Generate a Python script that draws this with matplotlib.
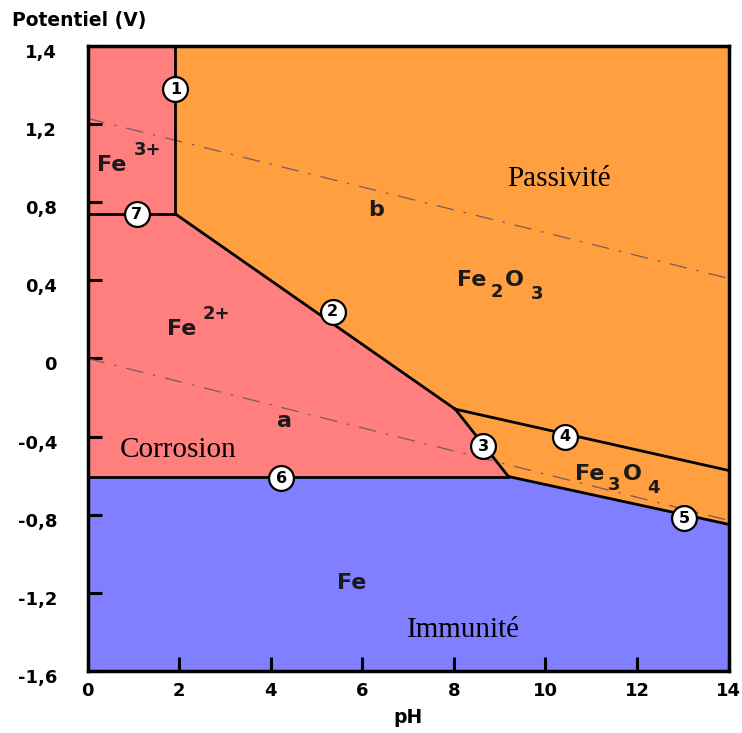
import matplotlib.pyplot as plt
import matplotlib.transforms as mtransforms
from matplotlib.patches import Polygon

# axis ticks as printed on the original
x_ticks = [0, 2, 4, 6, 8, 10, 12, 14]
y_ticks = [-1.6, -1.2, -0.8, -0.4, 0, 0.4, 0.8, 1.2, 1.6]
y_tick_labels = ['-1,6', '-1,2', '-0,8', '-0,4', '0', '0,4', '0,8', '1,2', '1,4']

# boundary nodes (pH, E)
p_top = 1.6
p_bot = -1.6
n_fe3_fe2 = (1.92, 0.74)      # end of line 7 / foot of line 1
n_triple = (8.03, -0.26)      # lines 2, 3, 4 meet
n_fe_corner = (9.19, -0.605)  # lines 3, 5, 6 meet
e_line4_right = -0.574
e_line5_right = -0.85

# water lines a and b (pH, E)
line_a_ph = [0, 14]
line_a_e = [0.0, -0.83]
line_b_ph = [0, 14]
line_b_e = [1.23, 0.41]

# numbered circles
circle_ids = ['1', '2', '3', '4', '5', '6', '7']
circle_ph = [1.92, 5.35, 8.64, 10.42, 13.03, 4.23, 1.07]
circle_e = [1.38, 0.24, -0.45, -0.40, -0.82, -0.615, 0.74]

RED = '#ff7f7f'
ORANGE = '#ff9f40'
BLUE = '#7f7fff'

fig = plt.figure(figsize=(7.42, 7.33), dpi=100)
ax = fig.add_axes([0.118, 0.085, 0.864, 0.852])
ax.set_xlim(0, 14)
ax.set_ylim(p_bot, p_top)

regions = {
    'fe3': ([(0, n_fe3_fe2[1]), n_fe3_fe2, (n_fe3_fe2[0], p_top), (0, p_top)], RED),
    'fe2': ([(0, n_fe_corner[1]), n_fe_corner, n_triple, n_fe3_fe2, (0, n_fe3_fe2[1])], RED),
    'fe2o3': ([(n_fe3_fe2[0], p_top), (14, p_top), (14, e_line4_right), n_triple, n_fe3_fe2], ORANGE),
    'fe3o4': ([n_triple, (14, e_line4_right), (14, e_line5_right), n_fe_corner], ORANGE),
    'fe': ([(0, p_bot), (14, p_bot), (14, e_line5_right), n_fe_corner, (0, n_fe_corner[1])], BLUE),
}
for name, (pts, col) in regions.items():
    ax.add_patch(Polygon(pts, closed=True, facecolor=col, edgecolor='none', zorder=1))

# dash-dot water lines
ax.plot(line_a_ph, line_a_e, color='#7a5a5a', lw=0.9, dashes=(14, 8, 2, 8), zorder=2)
ax.plot(line_b_ph, line_b_e, color='#7a5a5a', lw=0.9, dashes=(14, 8, 2, 8), zorder=2)

# boundaries
lw = 2.0
ax.plot([0, n_fe3_fe2[0]], [n_fe3_fe2[1], n_fe3_fe2[1]], 'k-', lw=lw, zorder=3)      # 7
ax.plot([n_fe3_fe2[0], n_fe3_fe2[0]], [n_fe3_fe2[1], p_top], 'k-', lw=lw, zorder=3)  # 1
ax.plot([n_fe3_fe2[0], n_triple[0]], [n_fe3_fe2[1], n_triple[1]], 'k-', lw=lw, zorder=3)  # 2
ax.plot([n_triple[0], n_fe_corner[0]], [n_triple[1], n_fe_corner[1]], 'k-', lw=lw, zorder=3)  # 3
ax.plot([n_triple[0], 14], [n_triple[1], e_line4_right], 'k-', lw=lw, zorder=3)  # 4
ax.plot([n_fe_corner[0], 14], [n_fe_corner[1], e_line5_right], 'k-', lw=lw, zorder=3)  # 5
ax.plot([0, n_fe_corner[0]], [n_fe_corner[1], n_fe_corner[1]], 'k-', lw=lw, zorder=3)  # 6

# numbered circles
ax.scatter(circle_ph, circle_e, s=320, facecolor='white', edgecolor='black',
           linewidth=1.6, zorder=4)
for cid, px, py in zip(circle_ids, circle_ph, circle_e):
    ax.text(px, py, cid, ha='center', va='center', fontsize=11.5, fontweight='bold',
            family='DejaVu Sans', zorder=5)

# species labels
chem = dict(fontsize=16, fontweight='bold', family='DejaVu Sans', color='#1a1a1a', zorder=5)
sup = dict(fontsize=13, fontweight='bold', family='DejaVu Sans', color='#1a1a1a', zorder=5)
ax.text(0.2, 0.99, 'Fe', va='center', **chem)
ax.text(1.0, 1.07, '3+', va='center', **sup)
ax.text(1.73, 0.15, 'Fe', va='center', **chem)
ax.text(2.52, 0.23, '2+', va='center', **sup)
ax.text(8.07, 0.40, 'Fe', va='center', **chem)
ax.text(8.8, 0.34, '2', va='center', **sup)
ax.text(9.12, 0.40, 'O', va='center', **chem)
ax.text(9.68, 0.33, '3', va='center', **sup)
ax.text(10.65, -0.59, 'Fe', va='center', **chem)
ax.text(11.36, -0.65, '3', va='center', **sup)
ax.text(11.68, -0.59, 'O', va='center', **chem)
ax.text(12.22, -0.665, '4', va='center', **sup)
ax.text(5.77, -1.15, 'Fe', ha='center', va='center', **chem)
ax.text(6.3, 0.76, 'b', ha='center', va='center', **chem)
ax.text(4.3, -0.32, 'a', ha='center', va='center', **chem)

serif = dict(fontsize=21, family='Liberation Serif', zorder=5)
ax.text(10.3, 0.92, 'Passivité', ha='center', va='center', **serif)
ax.text(1.98, -0.47, 'Corrosion', ha='center', va='center', **serif)
ax.text(8.2, -1.39, 'Immunité', ha='center', va='center', **serif)

# axes styling
for s in ax.spines.values():
    s.set_linewidth(2.5)
ax.set_xticks(x_ticks)
ax.set_xticklabels([str(t) for t in x_ticks])
ax.set_yticks(y_ticks)
ax.set_yticklabels(y_tick_labels)
ax.tick_params(direction='in', length=10, width=2.2, labelsize=13)
ax.tick_params(axis='y', pad=22)
ax.tick_params(axis='x', pad=8)
shift = mtransforms.ScaledTranslation(0, -5 / 100, fig.dpi_scale_trans)
for lab in ax.get_yticklabels():
    lab.set_transform(lab.get_transform() + shift)
for lab in ax.get_xticklabels() + ax.get_yticklabels():
    lab.set_fontweight('bold')
ax.set_xlabel('pH', fontsize=13.5, fontweight='bold', labelpad=6)
fig.text(0.016, 0.972, 'Potentiel (V)', fontsize=13.5, fontweight='bold', va='center')

fig.savefig('out.png', dpi=100)
